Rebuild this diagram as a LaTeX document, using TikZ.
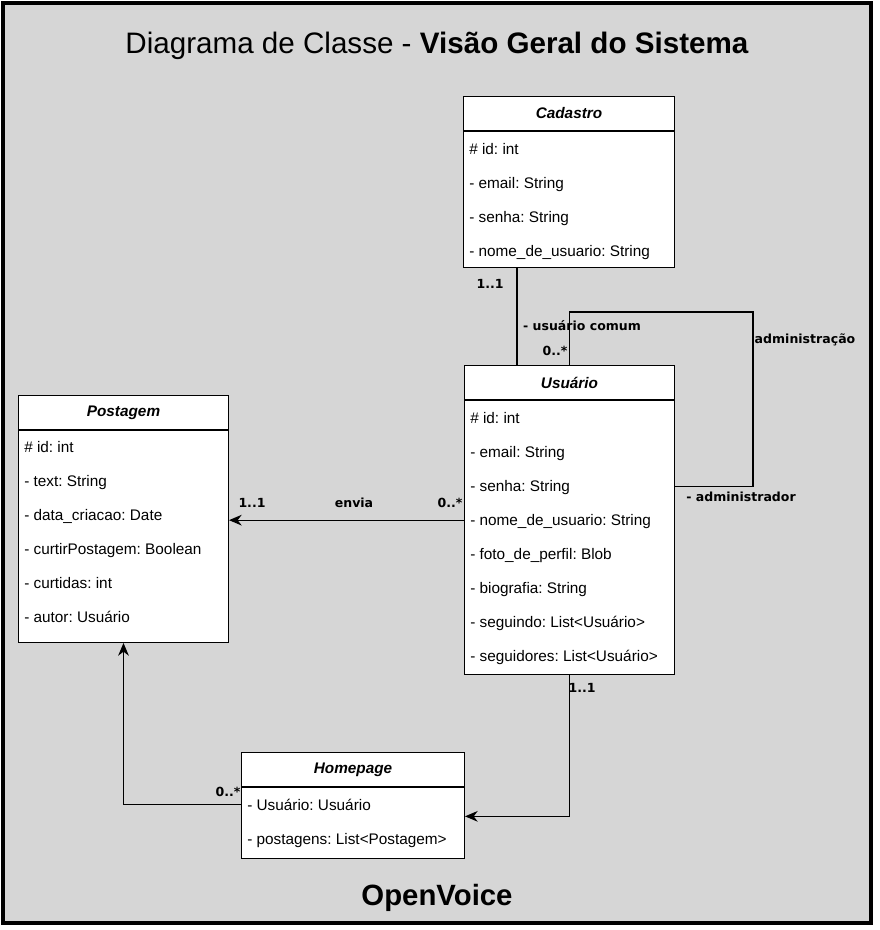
\documentclass[tikz,border=0pt]{standalone}
\usepackage{fontspec}
\setmainfont{Liberation Sans}
\newfontfamily\assocfont{DejaVu Sans}
\usetikzlibrary{arrows.meta,calc}

\newcommand{\pxu}{0.75pt}
\definecolor{framegray}{RGB}{214,214,214}
\frenchspacing

\tikzset{
  classhead/.style={draw, fill=white, line width=0.75pt, anchor=north west, inner sep=0pt,
    minimum height=34*\pxu, font=\fontsize{11.5}{13}\selectfont\bfseries\itshape},
  classbody/.style={draw, fill=white, line width=0.75pt, anchor=north, inner sep=0pt},
  attr/.style={anchor=west, inner sep=0pt, text height=8.2pt, text depth=2.4pt,
    font=\fontsize{11.5}{13}\selectfont},
  assoc/.style={inner sep=0pt, font=\assocfont\fontsize{9.4}{11}\selectfont\bfseries},
  assocline/.style={line width=1pt},
  arrowtip/.style={-{Stealth[length=9.5pt, width=8pt, inset=3pt]}},
}

\begin{document}
\begin{tikzpicture}[x=0.75pt, y=-0.75pt]
\useasboundingbox (0,0) rectangle (879,930);
\draw[line width=3pt, fill=framegray] (3,3) rectangle (871,923);

% titles
\node[font=\fontsize{22.2}{26}\selectfont] (title) at (437,46)
  {Diagrama de Classe - \textbf{Visão Geral do Sistema}};
\node[font=\fontsize{22}{26}\selectfont\bfseries] (brand) at (437,898) {OpenVoice};

% Cadastro
\node[classhead, minimum width=211*\pxu] (cad) at (463,96) {Cadastro};
\node[classbody, minimum width=211*\pxu, minimum height=136*\pxu] (cadb) at (cad.south) {};
\foreach \t [count=\i] in {\# id: int, - email: String, - senha: String,
    - nome\_de\_usuario: String} {%
  \node[attr] (cad-\i) at (469,116.5+34*\i) {\t};
}

% Usuario
\node[classhead, minimum width=210*\pxu] (usu) at (464,365) {Usuário};
\node[classbody, minimum width=210*\pxu, minimum height=274*\pxu] (usub) at (usu.south) {};
\foreach \t [count=\i] in {\# id: int, - email: String, - senha: String,
    - nome\_de\_usuario: String, - foto\_de\_perfil: Blob, - biografia: String,
    - seguindo: List<Usuário>, - seguidores: List<Usuário>} {%
  \node[attr] (usu-\i) at (470,385.5+34*\i) {\t};
}

% Postagem
\node[classhead, minimum width=210*\pxu] (post) at (18,395) {Postagem};
\node[classbody, minimum width=210*\pxu, minimum height=212*\pxu] (postb) at (post.south) {};
\foreach \t [count=\i] in {\# id: int, - text: String, - data\_criacao: Date,
    - curtirPostagem: Boolean, - curtidas: int, - autor: Usuário} {%
  \node[attr] (post-\i) at (24,414.5+34*\i) {\t};
}

% Homepage
\node[classhead, minimum width=223*\pxu] (hom) at (241,752) {Homepage};
\node[classbody, minimum width=223*\pxu, minimum height=71*\pxu] (homb) at (hom.south) {};
\foreach \t [count=\i] in {- Usuário: Usuário, - postagens: List<Postagem>} {%
  \node[attr] (hom-\i) at (247,772.5+34*\i) {\t};
}

% relations
\coordinate (loopcorner) at (753,312);
\draw[assocline] ($(cadb.south west)+(54,0)$) -- ($(usu.north west)+(53,0)$);
\draw[assocline] (usu.north) |- (loopcorner) |- ([yshift=1pt]usub.east |- usu-3);
\draw[assocline, arrowtip] ([yshift=1pt]usub.west |- usu-4) -- ([yshift=1pt]postb.east |- usu-4);
\draw[assocline, arrowtip] ([yshift=1.5pt]homb.west |- hom-1) -| (postb.south);
\draw[assocline, arrowtip] (usub.south) |- ([yshift=5pt]homb.east);

% multiplicities and roles
\node[assoc] (m-cad) at (490,284) {1..1};
\node[assoc] (r-comum) at (582,326) {- usuário comum};
\node[assoc] (m-comum) at (555,351) {0..*};
\node[assoc] (r-adm) at (805,340) {administração};
\node[assoc] (r-admr) at (741,497) {- administrador};
\node[assoc] (m-post) at (252,503) {1..1};
\node[assoc] (r-envia) at (354,503) {envia};
\node[assoc] (m-envia) at (450,503) {0..*};
\node[assoc] (m-hom) at (228,792) {0..*};
\node[assoc] (m-usu) at (582,688) {1..1};
\end{tikzpicture}
\end{document}
